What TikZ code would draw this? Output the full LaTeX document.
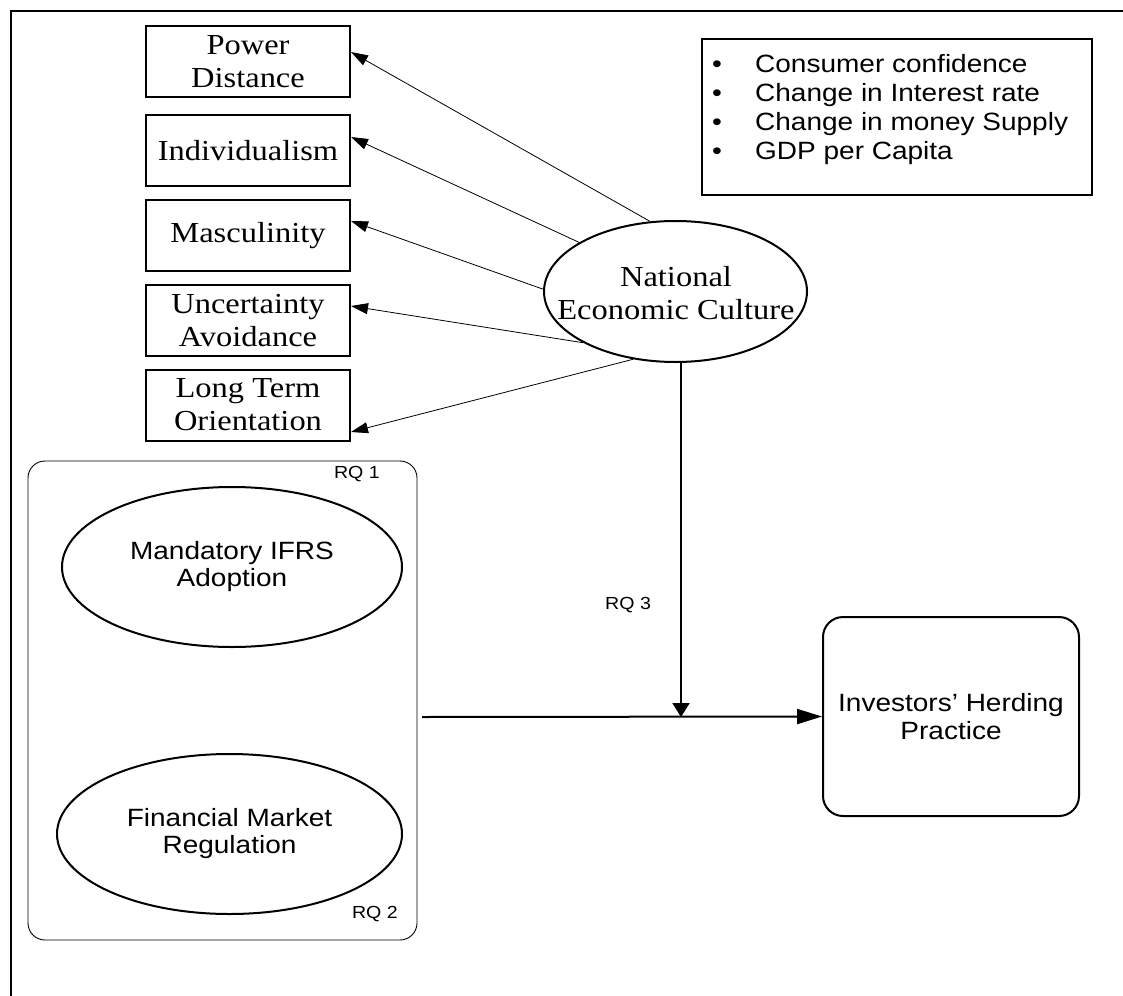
\documentclass[tikz,border=0pt]{standalone}
\usepackage{fontspec}
\setmainfont{Liberation Serif}[FakeStretch=1.12]
\newfontfamily\arialf{Liberation Sans}[FakeStretch=1.12]
\usetikzlibrary{arrows.meta,shapes.geometric}
\begin{document}
\begin{tikzpicture}[x=1pt,y=-1pt,
  lbox/.style={draw, line width=2pt, minimum width=204pt, minimum height=71pt, inner sep=0pt, align=center, font=\fontsize{29}{33}\selectfont},
  bul/.style={anchor=base west, inner sep=0pt, font=\arialf\fontsize{25}{29}\selectfont},
  oval/.style={ellipse, draw, line width=2pt, inner sep=0pt, align=center, font=\arialf\fontsize{25}{27}\selectfont},
  rq/.style={inner sep=0pt, font=\arialf\fontsize{17.5}{20}\selectfont},
  thinarrow/.style={line width=0.8pt, -{Triangle[length=17pt,width=11pt]}},
  thickline/.style={line width=2pt}
]
\useasboundingbox (0,0) rectangle (1123,995);
% frame
\draw[thickline] (1130,11) -- (11,11) -- (11,1000);
% culture dimensions
\node[lbox] (pd)  at (248,61.5)  {Power\\Distance};
\node[lbox] (ind) at (248,150.5) {Individualism};
\node[lbox] (mas) at (248,235.5) {Masculinity};
\node[lbox] (ua)  at (248,320.5) {Uncertainty\\Avoidance};
\node[lbox] (lto) at (248,405)   {Long Term\\Orientation};
% macro box
\node[draw, line width=2pt, minimum width=390pt, minimum height=156pt, inner sep=0pt] (macro) at (897,117) {};
\node[bul] (b1) at (712,73)  {\makebox[43pt][l]{\textbullet}Consumer confidence};
\node[bul] (b2) at (712,102) {\makebox[43pt][l]{\textbullet}Change in Interest rate};
\node[bul] (b3) at (712,131) {\makebox[43pt][l]{\textbullet}Change in money Supply};
\node[bul] (b4) at (712,160) {\makebox[43pt][l]{\textbullet}GDP per Capita};
% national economic culture
\node[ellipse, draw, line width=2pt, minimum width=263pt, minimum height=141pt, inner sep=0pt] (nec) at (675.5,291.5) {};
\node[align=center, inner sep=0pt, font=\fontsize{29}{33}\selectfont] (nect) at (676,293) {National\\Economic Culture};
% group container
\node[draw, line width=0.9pt, rounded corners=17pt, minimum width=389pt, minimum height=479pt, inner sep=0pt] (grp) at (222.5,700.5) {};
\node[oval, minimum width=340pt, minimum height=160pt] (ifrs) at (232,567) {Mandatory IFRS\\Adoption};
\node[oval, minimum width=345pt, minimum height=160pt] (fmr) at (229.5,834) {Financial Market\\Regulation};
\node[rq, anchor=base east] (rq1) at (380,478) {RQ 1};
\node[rq, anchor=base east] (rq2) at (398,918) {RQ 2};
\node[rq, anchor=base west] (rq3) at (605,609) {RQ 3};
% herding
\node[draw, line width=2pt, rounded corners=20pt, minimum width=256pt, minimum height=199pt, inner sep=0pt, align=center, font=\arialf\fontsize{25}{28}\selectfont] (herd) at (951,716.5) {Investors’ Herding\\Practice};
% connectors
\draw[thinarrow] (nec.110) -- ([yshift=9.5pt]pd.east);
\draw[thinarrow] (nec.153) -- ([yshift=13.5pt]ind.east);
\draw[thinarrow] (nec.179) -- ([yshift=14.5pt]mas.east);
\draw[thinarrow] (nec.209) -- ([yshift=14.5pt]ua.east);
\draw[thinarrow] (nec.238) -- ([yshift=-27pt]lto.east);
\coordinate (hs) at (422,717);
\coordinate (meet) at (681,717);
\draw[thickline, -{Triangle[length=25pt,width=15pt]}] (hs) -- (herd.west);
\draw[thickline, -{Triangle[length=14pt,width=17pt]}] ([xshift=5.5pt]nec.south) -- (meet);
\end{tikzpicture}
\end{document}
